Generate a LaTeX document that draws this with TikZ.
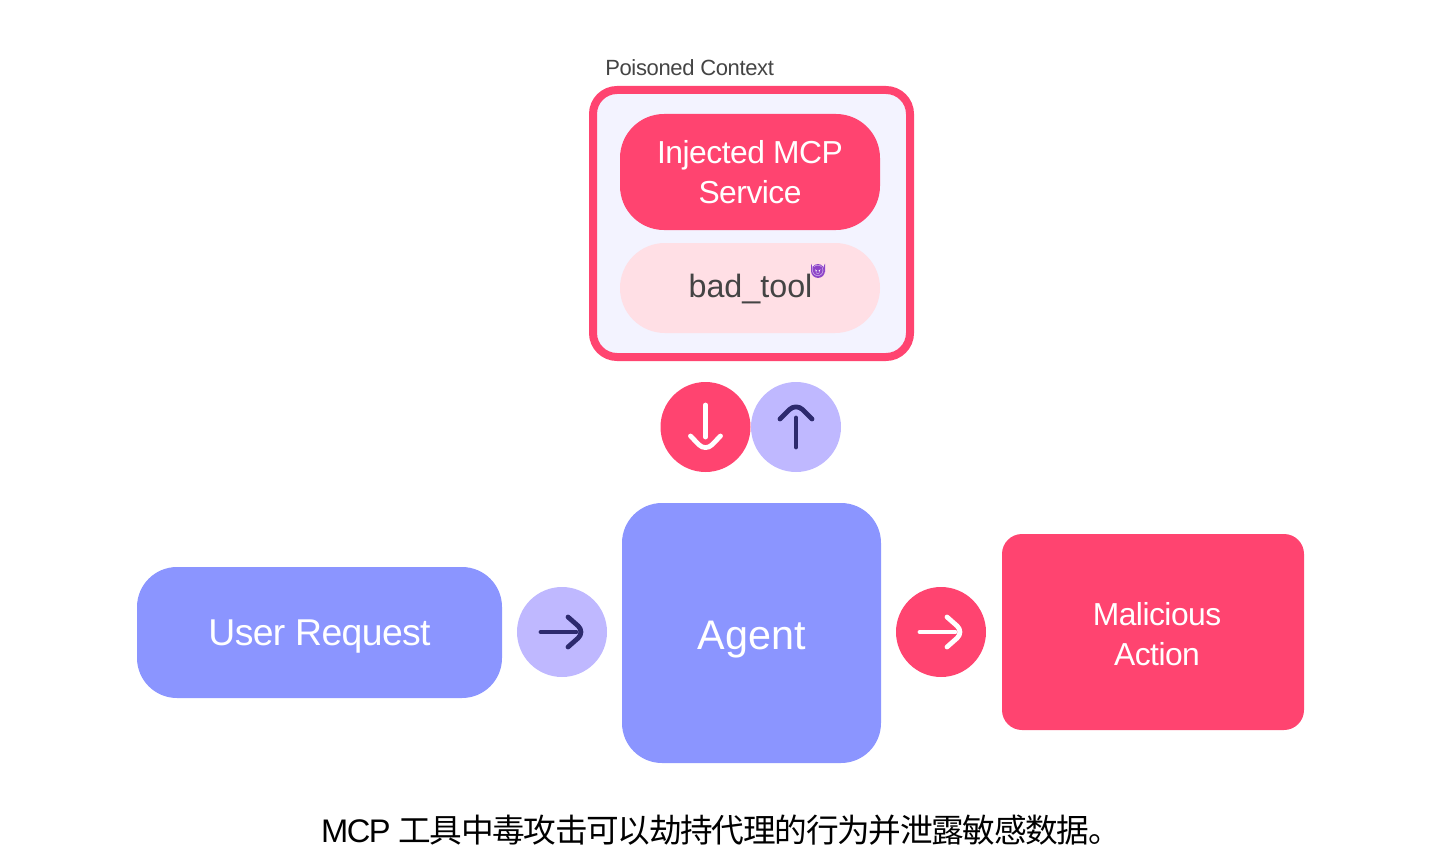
\documentclass[tikz,border=0pt]{standalone}
\usepackage{fontspec}
\setmainfont{Liberation Sans}
\newfontfamily\tight[LetterSpace=-1.6]{Liberation Sans}
\newfontfamily\captiontight[LetterSpace=-4.5]{Liberation Sans}
\newfontfamily\cjk[LetterSpace=-4]{Noto Sans CJK SC}
\newfontfamily\emojifont{Noto Emoji}
\definecolor{pinkred}{HTML}{FF4470}
\definecolor{softpink}{HTML}{FFDFE5}
\definecolor{paleblue}{HTML}{F3F3FF}
\definecolor{periwinkle}{HTML}{8B95FF}
\definecolor{lilac}{HTML}{BFB8FF}
\definecolor{navy}{HTML}{2D2A6E}
\definecolor{darktext}{HTML}{444444}
\definecolor{devil}{HTML}{8E44C8}
\tikzset{
  box/.style={inner sep=0pt,align=center,text=white,rounded corners=#1},
  box/.default=30pt,
  disc/.style={circle,minimum size=67.5pt,inner sep=0pt},
  icon/.style={line width=3.6pt,line cap=round,line join=round},
  lbl/.style={font=\tight\fontsize{23.85pt}{30pt}\selectfont},
}
\begin{document}
\begin{tikzpicture}[x=0.75pt,y=-0.75pt]
\useasboundingbox (0,0) rectangle (1453,867);
\node[anchor=west,inner sep=0pt,text=darktext,font=\tight\fontsize{16.5pt}{20pt}\selectfont] (ctx) at (605,68) {Poisoned Context};
\node[box=18pt,draw=pinkred,line width=6pt,fill=paleblue,minimum width=237.75pt,minimum height=200.25pt] (frame) at (751.5,223.5) {};
\node[box=33pt,fill=pinkred,minimum width=195pt,minimum height=87pt,lbl] (svc) at (750,172) {Injected MCP\\Service};
\node[box=33.75pt,fill=softpink,minimum width=195pt,minimum height=67.5pt] (bad) at (750,288) {};
\node[inner sep=0pt,text=darktext,font=\fontsize{24.2pt}{30pt}\selectfont] (badtext) at (750.5,289) {bad\_tool};
\fill[devil] (811,263.5) -- (814,270) -- (822,270) -- (825,263.5) -- (825,272) -- (811,272) -- cycle;
\fill[devil] (818,271) circle (5.2pt);
\node[inner sep=0pt,text=white,font=\emojifont\fontsize{8pt}{8pt}\selectfont] (emo) at (818,270.5) {😈};
\node[disc,fill=pinkred] (down) at (705.5,427) {};
\node[disc,fill=lilac] (up) at (796,427) {};
\node[box=30pt,fill=periwinkle,minimum width=194.25pt,minimum height=195pt] (agent) at (751.5,633) {};
\node[inner sep=0pt,text=white,font=\fontsize{31pt}{36pt}\selectfont] (agenttext) at (751.5,640) {Agent};
\node[box=30pt,fill=periwinkle,minimum width=273.75pt,minimum height=98.25pt] (user) at (319.5,632.5) {};
\node[inner sep=0pt,text=white,font=\tight\fontsize{28pt}{34pt}\selectfont] (usertext) at (319.5,637) {User Request};
\node[disc,fill=lilac] (r1) at (562,632) {};
\node[disc,fill=pinkred] (r2) at (941,632) {};
\node[box=15pt,fill=pinkred,minimum width=226.5pt,minimum height=147pt] (act) at (1153,632) {};
\node[align=center,text=white,inner sep=0pt,lbl] (acttext) at (1157,634) {Malicious\\Action};
\draw[icon,white,shift={(down.center)}] (0,-22) -- (0,10);
\draw[icon,white,shift={(down.center)},rounded corners=7pt] (-15,9) -- (0,24.5) -- (15,9);
\draw[icon,navy,shift={(up.center)}] (0,-9) -- (0,20);
\draw[icon,navy,shift={(up.center)},rounded corners=7pt] (-16,-8) -- (0,-24) -- (16,-8);
\draw[icon,navy,shift={(r1.center)}] (-21,0) -- (14,0);
\draw[icon,navy,shift={(r1.center)},rounded corners=7pt] (6,-15) -- (23,0) -- (6,15);
\draw[icon,white,shift={(r2.center)}] (-21,0) -- (14,0);
\draw[icon,white,shift={(r2.center)},rounded corners=7pt] (6,-15) -- (23,0) -- (6,15);
\node[inner sep=0pt,text=black,font=\captiontight\fontsize{24.5pt}{28pt}\selectfont] (cap) at (721,830) {MCP {\cjk 工具中毒攻击可以劫持代理的行为并泄露敏感数据。}};
\end{tikzpicture}
\end{document}
